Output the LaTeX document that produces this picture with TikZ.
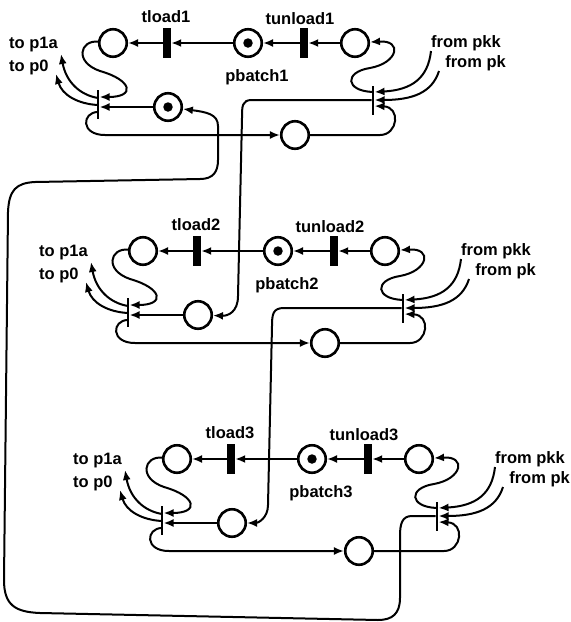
\documentclass[tikz,border=0pt]{standalone}
\usepackage{fontspec}
\setmainfont{Liberation Sans}
\usetikzlibrary{arrows.meta}
\begin{document}
\begin{tikzpicture}[x=1pt,y=-1pt,
  place/.style={circle,draw,line width=2.6pt,minimum size=27.5pt,inner sep=0pt},
  tokdot/.style={circle,fill,draw=none,minimum size=9.5pt,inner sep=0pt},
  thickbar/.style={rectangle,fill,draw=none,minimum width=8pt,minimum height=30pt,inner sep=0pt},
  thinbar/.style={rectangle,fill,draw=none,minimum width=2.6pt,minimum height=29pt,inner sep=0pt},
  arc/.style={line width=2pt,-{Latex[length=10pt,width=8pt]}},
  lab/.style={font=\bfseries\fontsize{16.5}{16.5}\selectfont,inner sep=0pt},
]
\useasboundingbox[fill=white] (0,0) rectangle (571,622);

\foreach \i/\dx/\dy in {1/0/0,2/30/208,3/64/416}{
\begin{scope}[shift={(\dx,\dy)}]
 \node[place] (Pa\i) at (113,43) {};
 \node[thickbar] (tload\i) at (167,43) {};
 \node[place] (pb\i) at (248,43) {};
 \node[tokdot] (pbt\i) at (248,43) {};
 \node[thickbar] (tun\i) at (304,43) {};
 \node[place] (Pb\i) at (355,43) {};
 \node[thinbar] (tl\i) at (98,104) {};
 \node[place] (tok\i) at (168,107) {};
 \node[thinbar] (tr\i) at (373,100) {};
 \node[place] (bot\i) at (295,135) {};
 \node[lab,anchor=base] (ltl\i) at (166,22.5) {tload\i};
 \node[lab,anchor=base] (ltu\i) at (300,24) {tunload\i};
 \node[lab,anchor=base] (lpb\i) at (257,81) {pbatch\i};
 \node[lab,anchor=base west] (lp1a\i) at (9,48) {to p1a};
 \node[lab,anchor=base west] (lp0\i) at (9,71) {to p0};
 \node[lab,anchor=base east] (lpkk\i) at (501,47) {from pkk};
 \node[lab,anchor=base east] (lpk\i) at (506,67) {from pk};
 \coordinate (p1a\i) at (61,54);
 \coordinate (p0\i) at (56,74);
 \coordinate (fpkk\i) at (431,51);
 \coordinate (fpk\i) at (439,71);
 \draw[arc] (pb\i) -- (tload\i);
 \draw[arc] (tload\i) -- (Pa\i);
 \draw[arc] (Pb\i) -- (tun\i);
 \draw[arc] (tun\i) -- (pb\i);
 \draw[arc] (tok\i) -- (tok\i -| tl\i.east);
 \draw[arc] (Pa\i) .. controls (80,40) and (74,62) .. (100,71) .. controls (132,80) and (136,97) .. ([yshift=7pt]tl\i.east);
 \draw[arc] ([yshift=6pt]tl\i.center) .. controls (80,95) and (66,82) .. (p1a\i);
 \draw[arc] ([yshift=-1pt]tl\i.center) .. controls (78,104) and (62,95) .. (p0\i);
 \draw[arc] ([yshift=-8pt]tl\i.center) .. controls (82,112) and (80,135) .. (105,135) -- (bot\i);
 \draw[arc] (bot\i) -- (380,135) .. controls (398,135) and (401,107) .. ([yshift=-6pt]tr\i.east);
 \draw[arc] ([yshift=8pt]tr\i.center) .. controls (345,91) and (344,72) .. (370,68) .. controls (398,63) and (403,40) .. (Pb\i);
 \draw[arc] (fpkk\i) .. controls (428,78) and (412,90) .. ([yshift=8pt]tr\i.east);
 \draw[arc] (fpk\i) .. controls (432,93) and (412,100) .. (tr\i.east);
\end{scope}
}
\node[tokdot] (tokt1) at (tok1) {};

\draw[arc] (tr1.west) -- (252,100) .. controls (242,100) and (242,106) .. (242,118) -- (238,296) .. controls (238,312) and (228,316) .. (tok2);
\draw[arc] (tr2.west) -- (284,308) .. controls (273,308) and (272,314) .. (272,326) -- (268,505) .. controls (268,518) and (258,523) .. (tok3);
\draw[arc] (tr3.west) -- (412,516) .. controls (402,516) and (400,524) .. (400,536) -- (400,598) .. controls (400,614) and (392,620) .. (378,620) -- (40,613) .. controls (15,612) and (4,605) .. (4,580) -- (8,212) .. controls (9,190) and (16,183) .. (35,182) -- (200,179) .. controls (213,179) and (218,172) .. (218,160) -- (218,126) .. controls (218,114) and (206,112) .. (tok1);
\end{tikzpicture}
\end{document}
